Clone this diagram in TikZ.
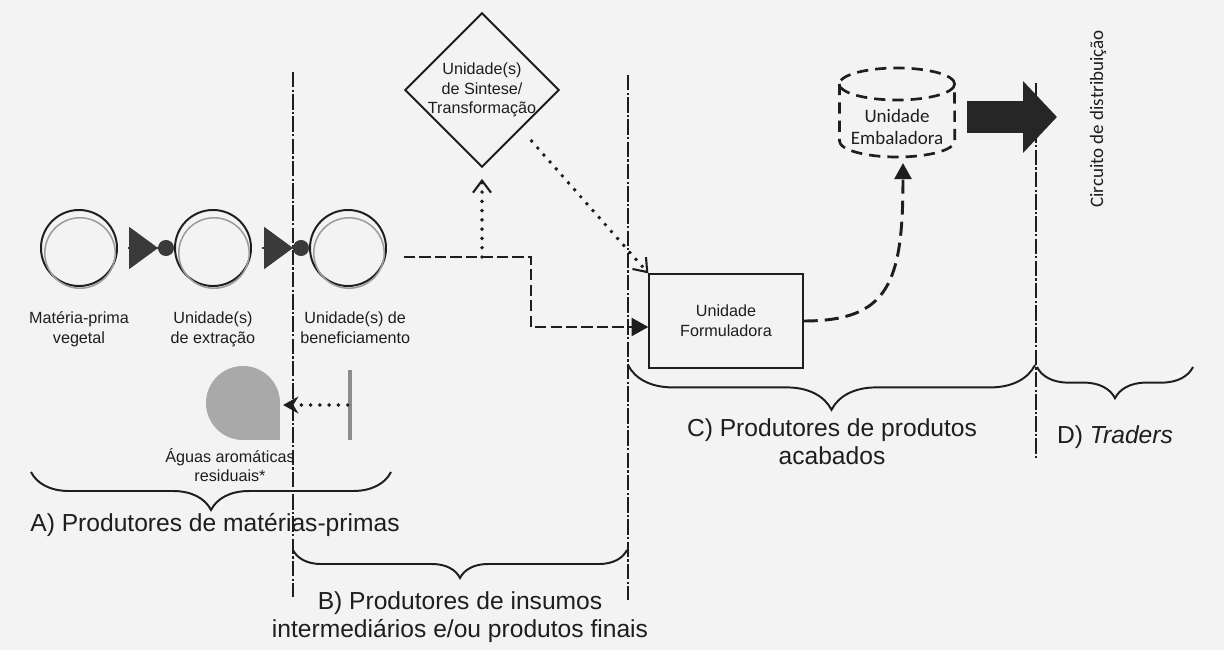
\documentclass[tikz,border=0pt]{standalone}
\usepackage{fontspec}
\setmainfont{Liberation Sans}
\newfontfamily\calfont{Carlito}
\usetikzlibrary{arrows.meta,positioning,calc,shapes.geometric,decorations.pathreplacing}
\definecolor{inkdark}{HTML}{1E1E1E}
\definecolor{tipgray}{HTML}{3A3A3A}
\definecolor{shadowgray}{HTML}{9C9C9C}
\definecolor{wastegray}{HTML}{A9A9A9}
\definecolor{bargray}{HTML}{8C8C8C}
\definecolor{paper}{HTML}{F3F3F3}
\tikzset{
  unitcirc/.style  = {circle, draw=inkdark, line width=1.4pt, minimum size=1.9cm, inner sep=0pt},
  unitlbl/.style   = {font=\fontsize{11.5}{14}\selectfont\color{inkdark}, align=center, inner sep=0pt},
  grplbl/.style    = {font=\fontsize{17.5}{20}\selectfont\color{inkdark}, align=center, inner sep=0pt},
  embfont/.style   = {font=\calfont\fontsize{13.5}{16}\selectfont\color{inkdark}, align=center, inner sep=0pt},
  stagesep/.style  = {inkdark, line width=1.9pt, dash pattern=on 11pt off 1.6pt on 1.6pt off 1.6pt},
  ballarrow/.style = {tipgray, line width=0.8pt, shorten <=0.25cm,
                      -{Triangle[length=0.72cm,width=1.05cm,sep=0pt]Circle[length=0.4cm,sep=0pt]}},
  dashflow/.style  = {inkdark, line width=1.7pt, dash pattern=on 8pt off 3pt, -{Triangle[length=0.42cm,width=0.45cm]}},
  dotflow/.style   = {inkdark, line width=2.8pt, line cap=round, dash pattern=on 0pt off 6.6pt},
  barbtip/.style   = {-{Straight Barb[length=0.3cm,width=0.45cm,line width=1.5pt]}},
  curveflow/.style = {inkdark, line width=2.1pt, dash pattern=on 10pt off 5pt, -{Triangle[length=0.4cm,width=0.42cm]}},
  cylline/.style   = {inkdark, line width=1.9pt, dash pattern=on 8pt off 5pt},
  bigarrow/.style  = {black!85, line width=0.8cm, -{Triangle[length=0.85cm,width=1.75cm]}},
  grpbrace/.style  = {inkdark, line width=1.4pt, decorate},
}
\begin{document}
\begin{tikzpicture}[x=0.025cm, y=-0.025cm]
\fill[paper] (0,0) rectangle (1224,650);
\useasboundingbox (0,0) rectangle (1224,650);

% stage separators
\coordinate (s1top) at (293,72);   \coordinate (s1bot) at (293,597);
\coordinate (s2top) at (628,75);   \coordinate (s2bot) at (628,600);
\coordinate (s3top) at (1036,83);  \coordinate (s3bot) at (1036,458);
\draw[stagesep] (s1top) -- (s1bot);
\draw[stagesep] (s2top) -- (s2bot);
\draw[stagesep] (s3top) -- (s3bot);

% raw material chain
\node[unitcirc] (mp)  at (79,248)  {};
\node[unitcirc] (ext) at (213,248) {};
\node[unitcirc] (ben) at (348,248) {};
\foreach \nm in {mp,ext,ben}
  \draw[shadowgray, line width=1.1pt] ($(\nm.center)+(1,5)$) circle [radius=0.88cm];
\draw[ballarrow] (mp.east) -- (ext.west);
\draw[ballarrow] (ext.east) -- (ben.west);

\node[unitlbl, below=0.62cm of mp]                 (mplbl)  {Matéria-prima\\vegetal};
\node[unitlbl, below=0.62cm of ext]                (extlbl) {Unidade(s)\\de extração};
\node[unitlbl, below=0.62cm of ben, xshift=0.18cm] (benlbl) {Unidade(s) de\\beneficiamento};

% residual waters
\node[circle, fill=wastegray, minimum size=1.85cm, inner sep=0pt] (agua) at (243,403) {};
\fill[wastegray] (agua.center) rectangle (agua.east |- agua.south);
\node[unitlbl] (agualbl) at (230,465) {Águas aromáticas\\residuais*};
\node[fill=bargray, minimum width=0.1cm, minimum height=1.75cm, inner sep=0pt] (bar) at (350,405) {};
\draw[dotflow, -{Stealth[length=0.38cm,width=0.42cm]}, shorten >=0.07cm] (bar.west) -- (bar.west -| agua.east);

% synthesis and formulation
\node[diamond, draw=inkdark, line width=1.4pt, unitlbl, inner sep=-1.5pt] (synth) at (482,90)
  {Unidade(s)\\de Sintese/\\Transformação};
\node[rectangle, draw=inkdark, line width=0.9pt, minimum width=3.85cm, minimum height=2.35cm, unitlbl] (form)
  at (726,321) {Unidade\\Formuladora};

\coordinate (dstart) at ($(ben.east)+(17,9)$);
\draw[dashflow] (dstart) -- ++(127,0) coordinate (dturn) |- ($(form.west)+(0,6)$);
\coordinate (jA) at (synth.south |- dstart);
\draw[dotflow, barbtip, shorten >=0.27cm] (jA) -- (synth.south);
\draw[dotflow, barbtip, shorten <=0.4cm] (synth.south east) -- (form.north west);

% packaging unit (dashed cylinder)
\node[embfont] (emb) at (897,127) {Unidade\\Embaladora};
\draw[cylline] ($(emb.center)+(0,-43)$) ellipse [x radius=1.44cm, y radius=0.4cm];
\draw[cylline] ($(emb.center)+(-57.5,-43)$) -- ($(emb.center)+(-57.5,14)$)
  arc[start angle=180, end angle=360, x radius=1.44cm, y radius=0.4cm] -- ($(emb.center)+(57.5,-43)$);
\draw[curveflow] (form.east) .. controls +(85,0) and +(0,120) .. ($(emb.center)+(6,36)$);

% distribution
\node[embfont, rotate=90] (circ) at (1098,119) {Circuito de distribuição};
\coordinate (dtip) at (1057,117);
\draw[bigarrow] ($(emb.center)+(70,-10)$) -- (dtip);

% groups
\draw[grpbrace, decoration={brace, mirror, amplitude=0.95cm}] (31,472) -- (391,472);
\draw[grpbrace, decoration={brace, mirror, amplitude=0.7cm}] (293,550) -- (627,550);
\draw[grpbrace, decoration={brace, mirror, amplitude=1.12cm}] (628,365) -- (1035,365);
\draw[grpbrace, decoration={brace, mirror, amplitude=0.78cm}] (1037,367) -- (1193,367);
\node[grplbl] (grpA) at (215,525)  {A) Produtores de matérias-primas};
\node[grplbl] (grpB) at (460,617)  {B) Produtores de insumos\\intermediários e/ou produtos finais};
\node[grplbl] (grpC) at (832,442)  {C) Produtores de produtos\\acabados};
\node[grplbl] (grpD) at (1115,437) {D) \textit{Traders}};
\end{tikzpicture}
\end{document}
